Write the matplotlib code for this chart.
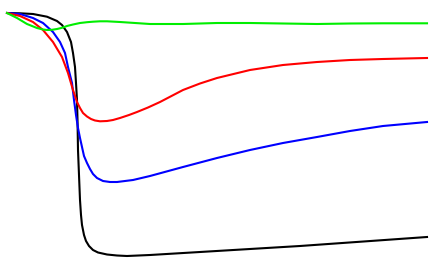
import numpy as np
import matplotlib.pyplot as plt

# time axis and depth values (depth grows downward)
black_t = [0, 13, 26, 40, 50, 55, 60, 64, 66, 68, 69, 70, 70.5, 71, 73, 74, 75, 77, 79, 82, 86, 91, 100, 110, 120, 143, 193, 293, 420]
black_y = [0, 0.3, 1, 3.7, 8, 12, 19, 29, 40, 54, 70, 87, 107, 137, 187, 202, 212, 222, 228, 233, 237, 239.5, 241.5, 242.5, 243, 242, 239, 233, 224]

red_t = [0, 13, 26, 36, 46, 55, 61, 66, 70, 73, 76, 80, 84, 88, 93, 100, 106, 113, 122, 130, 141, 153, 176, 193, 210, 243, 276, 310, 343, 376, 420]
red_y = [0, 3, 9, 17, 29, 44, 60, 77, 89, 95, 100, 103.5, 106, 107.5, 108.3, 108, 107, 105, 102, 99, 94.5, 89, 77, 70.5, 65, 57, 52, 49, 47, 46, 45]

blue_t = [0, 13, 26, 36, 46, 53, 58, 61, 65, 67, 69, 71, 73, 75, 77, 80, 83, 86, 90, 96, 103, 110, 126, 143, 176, 210, 243, 276, 310, 343, 376, 420]
blue_y = [0, 1, 5, 10, 19, 29, 40, 54, 70, 87, 102, 115, 125, 134, 143, 150, 156, 161, 165, 168, 169, 169, 167, 163, 154, 145, 137, 130, 124, 118, 113, 109]

green_t = [0, 10, 20, 30, 36, 40, 45, 50, 55, 60, 66, 73, 80, 86, 93, 100, 113, 143, 176, 210, 243, 276, 310, 343, 376, 420]
green_y = [0, 5, 11, 15, 16.5, 17, 16.8, 16, 14.8, 13, 11.5, 10, 9.2, 8.7, 8.3, 8.3, 9, 11, 11, 10, 10, 10.5, 11, 10.5, 10.3, 10.3]

fig = plt.figure(figsize=(4.36, 2.70), dpi=100)
ax = fig.add_axes([0, 0, 1, 1])

ax.plot(black_t, black_y, color="black", lw=1.5)
ax.plot(blue_t, blue_y, color="#0000ff", lw=1.5)
ax.plot(red_t, red_y, color="#ff0000", lw=1.5)
ax.plot(green_t, green_y, color="#00ee00", lw=1.5)

ax.set_xlim(-7, 429)
ax.set_ylim(257, -13)
ax.axis("off")

fig.savefig("out.png", dpi=100)
plt.close(fig)
